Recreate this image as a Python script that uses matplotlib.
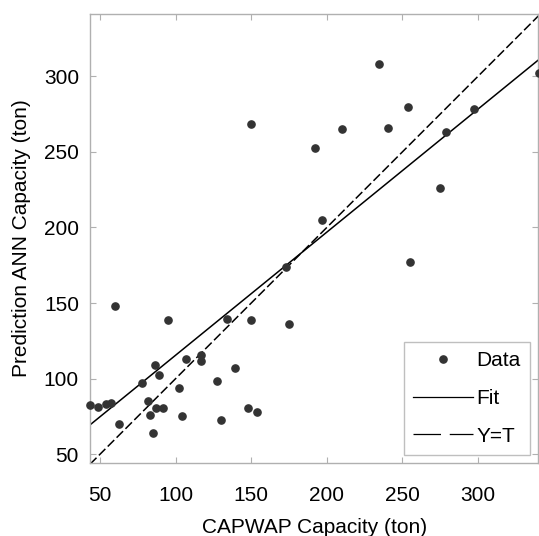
import numpy as np
import matplotlib
matplotlib.use("Agg")
import matplotlib.pyplot as plt
from matplotlib.lines import Line2D

# CAPWAP capacity (ton) vs ANN predicted capacity (ton)
capwap = [43.4, 48.5, 53.8, 57.1, 59.7, 62.4, 77.6, 81.5, 83.3, 85.1,
          86.4, 86.8, 89.0, 91.7, 95.2, 102.2, 104.4, 106.7, 117.0, 117.0,
          127.4, 130.0, 134.2, 139.5, 148.1, 149.9, 153.8, 149.9, 173.3, 175.2,
          192.0, 196.6, 210.3, 234.5, 240.5, 253.7, 255.0, 274.7, 278.6, 297.6,
          340.3]
ann = [82.6, 81.5, 83.3, 83.7, 147.9, 70.0, 97.0, 85.4, 76.0, 64.3,
       109.3, 80.8, 102.4, 80.8, 138.6, 93.7, 75.3, 113.2, 115.5, 111.7,
       98.7, 72.9, 139.7, 106.9, 80.4, 139.0, 78.0, 268.3, 173.9, 136.2,
       252.8, 205.2, 265.1, 307.9, 265.5, 279.7, 177.4, 226.1, 263.4, 278.2,
       302.0]

# fit line
fit_slope = 0.814
fit_intercept = 34.1

x_lim = [43.4, 340.0]
y_lim = [44.0, 341.4]
ticks = [50, 100, 150, 200, 250, 300]

plt.rcParams['font.family'] = ['Liberation Sans', 'DejaVu Sans']

fig = plt.figure(figsize=(5.39, 5.36), dpi=100)
ax = fig.add_axes([0.167, 0.1356, 0.832, 0.8388])

xs = np.array(x_lim)

ax.plot(capwap, ann, 'o', color='#333333', markersize=5.2, clip_on=False, zorder=3)
ax.plot(xs, fit_slope * xs + fit_intercept, '-', color='black', lw=1.1)
ax.plot(xs, xs, color='black', lw=1.1, dashes=(6, 2.2))

ax.set_xlim(x_lim)
ax.set_ylim(y_lim)
ax.set_xticks(ticks)
ax.set_yticks(ticks)
for s in ax.spines.values():
    s.set_color('#b0b0b0')
    s.set_linewidth(1.0)
ax.tick_params(direction='in', length=4, color='#b0b0b0', labelsize=15,
               top=True, right=True)
ax.tick_params(axis='x', pad=16)
ax.tick_params(axis='y', pad=8)

ax.set_xlabel('CAPWAP Capacity (ton)', fontsize=15, labelpad=10)
ax.set_ylabel('Prediction ANN Capacity (ton)', fontsize=15, labelpad=9)

handles = [
    Line2D([], [], ls='none', marker='o', color='#333333', markersize=5.2),
    Line2D([], [], color='black', lw=0.9),
    Line2D([], [], color='black', lw=0.9, dashes=(22, 7)),
]
leg = ax.legend(handles, ['Data', 'Fit', 'Y=T'], loc='lower right', fontsize=15,
                frameon=True, fancybox=False, edgecolor='#b0b0b0',
                handlelength=2.9, handletextpad=0.15, labelspacing=0.9,
                borderpad=0.45, borderaxespad=0.4)
leg.get_frame().set_linewidth(1.0)

fig.savefig('out.png', dpi=100)
